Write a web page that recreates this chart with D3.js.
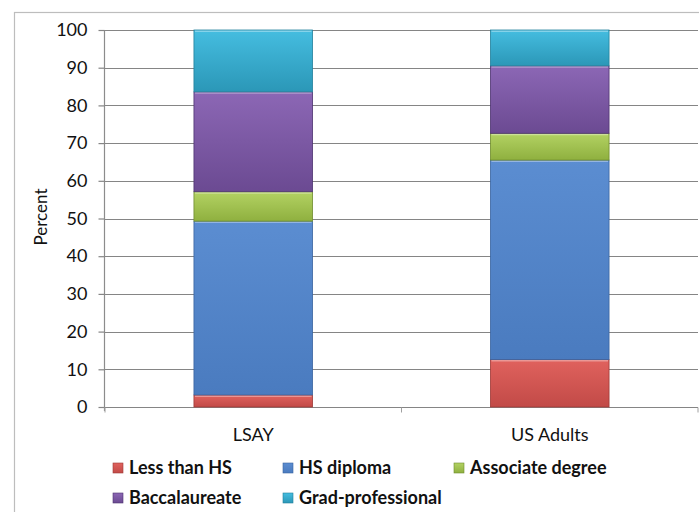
<!DOCTYPE html>
<html>
<head>
<meta charset="utf-8">
<script src="https://cdn.jsdelivr.net/npm/d3@7"></script>
<style>
  html, body { margin: 0; padding: 0; background: #fff; }
  svg { display: block; font-family: "Lato", "Open Sans", sans-serif; }
</style>
</head>
<body>
<svg id="chart" width="699" height="512"></svg>
<script>
const categories = ["LSAY", "US Adults"];
const seriesNames = ["Less than HS", "HS diploma", "Associate degree", "Baccalaureate", "Grad-professional"];
const lessThanHS = [3.2, 12.6];
const hsDiploma = [46.1, 52.9];
const associate = [7.8, 7.1];
const baccalaureate = [26.5, 17.9];
const gradProfessional = [16.4, 9.5];
const yTicks = [0, 10, 20, 30, 40, 50, 60, 70, 80, 90, 100];

const seriesValues = [lessThanHS, hsDiploma, associate, baccalaureate, gradProfessional];
const colors = [
  ["#e0625e", "#c24a47"],
  ["#5b8dd1", "#4a7bbf"],
  ["#b3d263", "#8fb03f"],
  ["#8c67b5", "#6b4a92"],
  ["#45bde0", "#2b97b7"]
];
const strokeCol = ["#9e3a37", "#3a64a0", "#6f8c2e", "#4e3470", "#23819c"];

const table = categories.map((c, i) => {
  const o = { category: c };
  seriesNames.forEach((s, j) => o[s] = seriesValues[j][i]);
  return o;
});
const stacked = d3.stack().keys(seriesNames)(table);

const svg = d3.select("#chart");
const margin = { left: 105, right: 1, top: 30, bottom: 105 };
const W = 699, H = 512;
const x = d3.scaleBand().domain(categories).range([margin.left, W - margin.right]).paddingInner(0.6).paddingOuter(0.3);
const xOuter = d3.scaleBand().domain(categories).range([margin.left, W - margin.right]);
const y = d3.scaleLinear().domain([0, 100]).range([H - margin.bottom, margin.top]);

// outer border
svg.append("rect").attr("x", 14.5).attr("y", 12.5).attr("width", 720).attr("height", 540)
  .attr("fill", "none").attr("stroke", "#bdbdbd").attr("stroke-width", 1.2);

// gradients
const defs = svg.append("defs");
colors.forEach((c, i) => {
  const g = defs.append("linearGradient").attr("id", "g" + i).attr("x1", 0).attr("y1", 0).attr("x2", 0).attr("y2", 1);
  g.append("stop").attr("offset", "0%").attr("stop-color", c[0]);
  g.append("stop").attr("offset", "100%").attr("stop-color", c[1]);
});

// gridlines
svg.append("g").selectAll("line").data(yTicks.filter(d => d > 0)).join("line")
  .attr("x1", margin.left).attr("x2", W - margin.right)
  .attr("y1", d => Math.round(y(d)) + 0.5).attr("y2", d => Math.round(y(d)) + 0.5)
  .attr("stroke", "#858585").attr("stroke-width", 1.2);

// y axis
const yAxis = svg.append("g").attr("transform", `translate(${margin.left - 0.5},0)`)
  .call(d3.axisLeft(y).tickValues(yTicks).tickSize(6).tickPadding(11));
yAxis.select(".domain").attr("stroke", "#8c8c8c").attr("stroke-width", 1.2).attr("d", `M0,${margin.top}V${y(0) + 4}`);
yAxis.selectAll(".tick line").attr("stroke", "#858585").attr("stroke-width", 1.2);
yAxis.selectAll(".tick text").attr("font-size", 18).attr("fill", "#111").attr("font-family", "Lato, sans-serif");

// x axis
const xAxisG = svg.append("g").attr("transform", `translate(0,${Math.round(y(0)) + 0.5})`);
xAxisG.append("line").attr("x1", margin.left).attr("x2", W - margin.right).attr("stroke", "#858585").attr("stroke-width", 1.2);
const bounds = [xOuter.range()[0], ...categories.map(c => xOuter(c) + xOuter.bandwidth())];
xAxisG.selectAll(".xt").data(bounds).join("line").attr("class", "xt")
  .attr("x1", d => d).attr("x2", d => d).attr("y1", 0).attr("y2", 5).attr("stroke", "#a0a0a0");
xAxisG.selectAll(".xl").data(categories).join("text").attr("class", "xl")
  .attr("x", d => xOuter(d) + xOuter.bandwidth() / 2).attr("y", 33)
  .attr("text-anchor", "middle").attr("font-size", 18).attr("fill", "#111").text(d => d);

// bars
const gBars = svg.append("g");
stacked.forEach((layer, i) => {
  gBars.append("g").selectAll("rect").data(layer).join("rect")
    .attr("x", d => x(d.data.category))
    .attr("width", x.bandwidth())
    .attr("y", d => y(d[1]))
    .attr("height", d => y(d[0]) - y(d[1]))
    .attr("fill", `url(#g${i})`)
    .attr("stroke", strokeCol[i]).attr("stroke-width", 0.8);
  gBars.append("g").selectAll("line").data(layer).join("line")
    .attr("x1", d => x(d.data.category) + 1).attr("x2", d => x(d.data.category) + x.bandwidth() - 1)
    .attr("y1", d => y(d[1]) + 1.2).attr("y2", d => y(d[1]) + 1.2)
    .attr("stroke", "#ffffff").attr("stroke-opacity", 0.35).attr("stroke-width", 1.5);
});

// y label
svg.append("text").attr("transform", `translate(47,217) rotate(-90)`)
  .attr("text-anchor", "middle").attr("font-size", 17).attr("fill", "#111").text("Percent");

// legend
const legendPos = [[113, 474], [283, 474], [454, 474], [113, 504], [283, 504]];
const lg = svg.append("g");
seriesNames.forEach((s, i) => {
  const [lx, ly] = legendPos[i];
  lg.append("rect").attr("x", lx).attr("y", ly - 11).attr("width", 10).attr("height", 10)
    .attr("fill", `url(#g${i})`).attr("stroke", strokeCol[i]).attr("stroke-width", 0.6);
  lg.append("text").attr("x", lx + 16).attr("y", ly).attr("font-size", 18)
    .attr("font-weight", 700).attr("fill", "#111").text(s);
});
</script>
</body>
</html>
